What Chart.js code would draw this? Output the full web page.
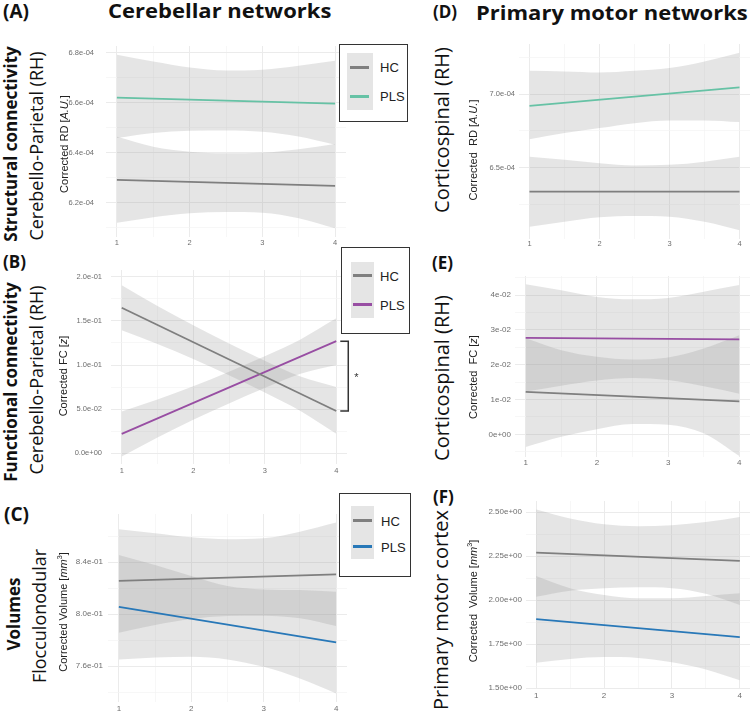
<!DOCTYPE html>
<html>
<head>
<meta charset="utf-8">
<script src="https://cdn.jsdelivr.net/npm/chart.js@4"></script>
<style>
  body { margin: 0; background: #fff; }
  #fig { position: relative; width: 752px; height: 718px; overflow: hidden; font-family: 'Open Sans', sans-serif; }
  canvas { position: absolute; }
  .txt { position: absolute; white-space: nowrap; line-height: 1; color: #111; z-index: 2; }
  .rot { transform: translate(-50%, -50%) rotate(-90deg); }
  .wide { transform: scaleX(1.1); transform-origin: left center; }
  .b { font-weight: 700; }
  .yt { font-family: 'Liberation Sans', Arial, sans-serif; font-size: 11px; color: #222; }
  .yt sup { font-size: 0.65em; line-height: 0; }
  .legend { position: absolute; border: 1.5px solid #333; background: #fff; box-sizing: border-box; z-index: 3; }
  .key { position: absolute; background: #e5e5e5; }
  .seg { position: absolute; height: 3px; width: 19px; }
  .lab { position: absolute; font-family: 'Liberation Sans', Arial, sans-serif; font-size: 13px; line-height: 1; color: #222; }
</style>
</head>
<body>
<div id="fig">
  <!-- headings -->
  <div class="txt b" style="left:3px;top:2px;font-size:19px">(A)</div>
  <div class="txt b wide" style="left:108px;top:1px;font-size:20px">Cerebellar networks</div>
  <div class="txt b" style="left:433px;top:3px;font-size:17px">(D)</div>
  <div class="txt b wide" style="left:476px;top:3px;font-size:20px">Primary motor networks</div>
  <div class="txt b" style="left:3px;top:253px;font-size:17px">(B)</div>
  <div class="txt b" style="left:4px;top:505px;font-size:19px">(C)</div>
  <div class="txt b" style="left:432px;top:254px;font-size:17px">(E)</div>
  <div class="txt b" style="left:433px;top:488px;font-size:17px">(F)</div>

  <!-- row labels -->
  <div class="txt rot b" style="left:10px;top:144px;font-size:17px">Structural connectivity</div>
  <div class="txt rot" style="left:36px;top:146px;font-size:18px">Cerebello-Parietal (RH)</div>
  <div class="txt rot b" style="left:10px;top:382px;font-size:17px">Functional connectivity</div>
  <div class="txt rot" style="left:36px;top:380px;font-size:18px">Cerebello-Parietal (RH)</div>
  <div class="txt rot b" style="left:13px;top:614px;font-size:17px">Volumes</div>
  <div class="txt rot" style="left:39px;top:616px;font-size:18px">Flocculonodular</div>
  <div class="txt rot" style="left:442px;top:130px;font-size:20px">Corticospinal (RH)</div>
  <div class="txt rot" style="left:442px;top:378px;font-size:20px">Corticospinal (RH)</div>
  <div class="txt rot" style="left:441px;top:610px;font-size:20px">Primary motor cortex</div>

  <!-- y axis titles -->
  <div class="txt rot yt" style="left:63.5px;top:144px">Corrected RD [<i>A.U.</i>]</div>
  <div class="txt rot yt" style="left:63px;top:376px">Corrected FC [<i>z</i>]</div>
  <div class="txt rot yt" style="left:63px;top:612px">Corrected Volume [<i>mm</i><sup>3</sup>]</div>
  <div class="txt rot yt" style="left:472.5px;top:150px">Corrected&nbsp; RD [<i>A.U.</i>]</div>
  <div class="txt rot yt" style="left:472.5px;top:377px">Corrected&nbsp; FC [<i>z</i>]</div>
  <div class="txt rot yt" style="left:472.5px;top:601px">Corrected&nbsp; Volume [<i>mm</i><sup>3</sup>]</div>

  <!-- legends -->
  <div class="legend" style="left:339px;top:44px;width:69px;height:78px">
    <div class="key" style="left:7px;top:8px;width:26px;height:57px"></div>
    <div class="seg" style="left:10px;top:21px;background:#7f7f7f"></div>
    <div class="seg" style="left:10px;top:50px;background:#66c2a5"></div>
    <div class="lab" style="left:40px;top:16px">HC</div>
    <div class="lab" style="left:40px;top:45px">PLS</div>
  </div>
  <div class="legend" style="left:341px;top:247px;width:69px;height:87px">
    <div class="key" style="left:9px;top:14px;width:23px;height:56px"></div>
    <div class="seg" style="left:11px;top:26px;background:#7f7f7f"></div>
    <div class="seg" style="left:11px;top:55px;background:#984ea3"></div>
    <div class="lab" style="left:38px;top:22px">HC</div>
    <div class="lab" style="left:38px;top:51px">PLS</div>
  </div>
  <div class="legend" style="left:339px;top:493px;width:72px;height:84px">
    <div class="key" style="left:11px;top:12px;width:23px;height:53px"></div>
    <div class="seg" style="left:13px;top:25px;background:#7f7f7f"></div>
    <div class="seg" style="left:13px;top:51px;background:#2878b8"></div>
    <div class="lab" style="left:41px;top:21px">HC</div>
    <div class="lab" style="left:41px;top:47px">PLS</div>
  </div>
</div>

<script>
// ---- shared x axis ----
var lineX = [1, 4];                       // fitted line end points
var bandX = [1, 1.5, 2, 2.5, 3, 3.5, 4];  // where the CI band edges were read
var xMajor = [1, 2, 3, 4];
var xLabels = ['1', '2', '3', '4'];
var xMinor = [1.5, 2.5, 3.5];

// ---- (A) structural connectivity, cerebello-parietal ----
var hcA = [6.292e-4, 6.268e-4];
var plsA = [6.621e-4, 6.597e-4];
var hcA_hi = [6.465e-4, 6.425e-4, 6.405e-4, 6.399e-4, 6.401e-4, 6.415e-4, 6.436e-4];
var hcA_lo = [6.121e-4, 6.143e-4, 6.159e-4, 6.164e-4, 6.161e-4, 6.139e-4, 6.099e-4];
var plsA_hi = [6.792e-4, 6.765e-4, 6.741e-4, 6.729e-4, 6.732e-4, 6.748e-4, 6.768e-4];
var plsA_lo = [6.459e-4, 6.479e-4, 6.488e-4, 6.489e-4, 6.484e-4, 6.465e-4, 6.432e-4];
var yMajorA = [6.2e-4, 6.4e-4, 6.6e-4, 6.8e-4];
var yLabelsA = ['6.2e-04', '6.4e-04', '6.6e-04', '6.8e-04'];
var yMinorA = [6.1e-4, 6.3e-4, 6.5e-4, 6.7e-4];

// ---- (B) functional connectivity, cerebello-parietal ----
var hcB = [0.1648, 0.048];
var plsB = [0.022, 0.127];
var hcB_hi = [0.1903, 0.1668, 0.1449, 0.1244, 0.1049, 0.0870, 0.0752];
var hcB_lo = [0.1393, 0.1238, 0.1069, 0.0884, 0.0689, 0.0480, 0.0222];
var plsB_hi = [0.0475, 0.0610, 0.0760, 0.0925, 0.1100, 0.1290, 0.1528];
var plsB_lo = [-0.0035, 0.0180, 0.0380, 0.0565, 0.0740, 0.0900, 0.1000];
var yMajorB = [0, 0.05, 0.10, 0.15, 0.20];
var yLabelsB = ['0.0e+00', '5.0e-02', '1.0e-01', '1.5e-01', '2.0e-01'];
var yMinorB = [0.025, 0.075, 0.125, 0.175];

// ---- (C) volumes, flocculonodular ----
var hcC = [0.8256, 0.8307];
var plsC = [0.8057, 0.7782];
var hcC_hi = [0.8655, 0.8624, 0.8593, 0.8578, 0.8585, 0.8636, 0.8706];
var hcC_lo = [0.7856, 0.7916, 0.7962, 0.7985, 0.7988, 0.7968, 0.7908];
var plsC_hi = [0.8456, 0.8379, 0.8294, 0.8217, 0.8191, 0.8186, 0.8173];
var plsC_lo = [0.7651, 0.7666, 0.7671, 0.7651, 0.7594, 0.7504, 0.7389];
var yMajorC = [0.76, 0.80, 0.84];
var yLabelsC = ['7.6e-01', '8.0e-01', '8.4e-01'];
var yMinorC = [0.74, 0.78, 0.82, 0.86];

// ---- (D) structural connectivity, corticospinal ----
var hcD = [6.336e-4, 6.336e-4];
var plsD = [6.920e-4, 7.045e-4];
var hcD_hi = [6.574e-4, 6.552e-4, 6.529e-4, 6.513e-4, 6.518e-4, 6.540e-4, 6.574e-4];
var hcD_lo = [6.097e-4, 6.131e-4, 6.161e-4, 6.170e-4, 6.165e-4, 6.131e-4, 6.074e-4];
var plsD_hi = [7.159e-4, 7.154e-4, 7.147e-4, 7.159e-4, 7.177e-4, 7.222e-4, 7.280e-4];
var plsD_lo = [6.693e-4, 6.734e-4, 6.768e-4, 6.802e-4, 6.820e-4, 6.820e-4, 6.809e-4];
var yMajorD = [6.5e-4, 7.0e-4];
var yLabelsD = ['6.5e-04', '7.0e-04'];
var yMinorD = [6.25e-4, 6.75e-4, 7.25e-4];

// ---- (E) functional connectivity, corticospinal ----
var hcE = [0.0122, 0.0095];
var plsE = [0.0277, 0.0273];
var hcE_hi = [0.0276, 0.0242, 0.0223, 0.0215, 0.0221, 0.0247, 0.0285];
var hcE_lo = [-0.0036, -0.0007, 0.0015, 0.0030, 0.0028, 0.0003, -0.0062];
var plsE_hi = [0.0431, 0.0414, 0.0395, 0.0388, 0.0392, 0.0410, 0.0429];
var plsE_lo = [0.0123, 0.0140, 0.0155, 0.0162, 0.0156, 0.0138, 0.0117];
var yMajorE = [0, 0.01, 0.02, 0.03, 0.04];
var yLabelsE = ['0e+00', '1e-02', '2e-02', '3e-02', '4e-02'];
var yMinorE = [-0.005, 0.005, 0.015, 0.025, 0.035, 0.045];

// ---- (F) volumes, primary motor cortex ----
var hcF = [2.269, 2.222];
var plsF = [1.891, 1.789];
var hcF_hi = [2.514, 2.463, 2.430, 2.419, 2.425, 2.443, 2.472];
var hcF_lo = [2.019, 2.053, 2.067, 2.072, 2.067, 2.035, 1.972];
var plsF_hi = [2.136, 2.067, 2.029, 2.010, 2.010, 2.023, 2.038];
var plsF_lo = [1.643, 1.665, 1.676, 1.671, 1.646, 1.605, 1.544];
var yMajorF = [1.50, 1.75, 2.00, 2.25, 2.50];
var yLabelsF = ['1.50e+00', '1.75e+00', '2.00e+00', '2.25e+00', '2.50e+00'];
var yMinorF = [1.625, 1.875, 2.125, 2.375];

var hcColor = '#7f7f7f';
var bandFill = 'rgba(153,153,153,0.25)';

Chart.defaults.font.family = "'Liberation Sans', Arial, sans-serif";
Chart.defaults.animation = false;

function pts(xs, ys) {
	return xs.map(function (x, i) { return { x: x, y: ys[i] }; });
}

function tickList(major, labels, minor) {
	var t = major.map(function (v, i) { return { value: v, lbl: labels[i], maj: true }; });
	minor.forEach(function (v) { t.push({ value: v, lbl: '', maj: false }); });
	t.sort(function (a, b) { return a.value - b.value; });
	return t;
}

// star bracket between the two line ends in (B)
var bracketPlugin = {
	id: 'bracket',
	afterDraw: function (chart) {
		var opts = chart.options.plugins.bracket;
		if (!opts || !opts.on) return;
		var ctx = chart.ctx, x = chart.scales.x, y = chart.scales.y;
		var xe = x.getPixelForValue(4);
		var y0 = y.getPixelForValue(plsB[1]), y1 = y.getPixelForValue(hcB[1]);
		ctx.save();
		ctx.strokeStyle = '#333';
		ctx.lineWidth = 1.5;
		ctx.beginPath();
		ctx.moveTo(xe + 4, y0); ctx.lineTo(xe + 12, y0);
		ctx.lineTo(xe + 12, y1); ctx.lineTo(xe + 4, y1);
		ctx.stroke();
		ctx.fillStyle = '#333';
		ctx.font = "11px 'Liberation Sans', Arial, sans-serif";
		ctx.textAlign = 'center';
		ctx.textBaseline = 'middle';
		ctx.fillText('*', xe + 20, (y0 + y1) / 2 + 2);
		ctx.restore();
	}
};

function makePanel(p) {
	var yW = 50, xH = 16;
	var extra = p.extraRight || 0;
	var cw = p.area[1] - p.area[0], ch = p.area[3] - p.area[2];
	var canvas = document.createElement('canvas');
	canvas.width = yW + cw + extra;
	canvas.height = ch + xH;
	canvas.style.left = (p.area[0] - yW) + 'px';
	canvas.style.top = p.area[2] + 'px';
	canvas.style.width = canvas.width + 'px';
	canvas.style.height = canvas.height + 'px';
	document.getElementById('fig').appendChild(canvas);

	var xt = tickList(xMajor, xLabels, xMinor);
	var yt = tickList(p.yMajor, p.yLabels, p.yMinor);
	var gridColor = function (c) { return c.tick && c.tick.maj ? '#ebebeb' : '#f3f3f3'; };
	var gridWidth = function (c) { return c.tick && c.tick.maj ? 1 : 0.7; };
	var band = function (data) {
		return { data: data, borderColor: 'transparent', borderWidth: 0, pointRadius: 0,
			cubicInterpolationMode: 'monotone', backgroundColor: bandFill };
	};

	return new Chart(canvas, {
		type: 'line',
		data: {
			datasets: [
				{ label: 'HC', data: pts(lineX, p.hc), borderColor: hcColor, borderWidth: 1.8, pointRadius: 0, fill: false },
				{ label: 'PLS', data: pts(lineX, p.pls), borderColor: p.plsColor, borderWidth: 1.8, pointRadius: 0, fill: false },
				Object.assign(band(pts(bandX, p.hcHi)), { fill: '+1' }),
				Object.assign(band(pts(bandX, p.hcLo)), { fill: false }),
				Object.assign(band(pts(bandX, p.plsHi)), { fill: '+1' }),
				Object.assign(band(pts(bandX, p.plsLo)), { fill: false })
			]
		},
		options: {
			responsive: false,
			layout: { padding: { left: 0, right: extra, top: 0, bottom: 0 } },
			plugins: { legend: { display: false }, tooltip: { enabled: false }, bracket: { on: !!p.bracket } },
			scales: {
				x: {
					type: 'linear', min: 0.85, max: 4.15, bounds: 'data',
					afterBuildTicks: function (s) { s.ticks = xt.map(function (t) { return Object.assign({}, t); }); },
					afterFit: function (s) { s.height = xH; s.paddingLeft = 0; s.paddingRight = 0; },
					ticks: { autoSkip: false, maxRotation: 0, padding: p.xPad, color: '#6e6e6e', font: { size: p.tickSize },
						callback: function (v, i, t) { return t[i].lbl; } },
					grid: { drawTicks: false, color: gridColor, lineWidth: gridWidth },
					border: { display: false }
				},
				y: {
					type: 'linear', min: p.yRange[0], max: p.yRange[1], bounds: 'data',
					afterBuildTicks: function (s) { s.ticks = yt.map(function (t) { return Object.assign({}, t); }); },
					afterFit: function (s) { s.width = yW; s.paddingTop = 0; s.paddingBottom = 0; },
					ticks: { autoSkip: false, padding: p.yPad, color: '#6e6e6e', font: { size: p.tickSize },
						callback: function (v, i, t) { return t[i].lbl; } },
					grid: { drawTicks: false, color: gridColor, lineWidth: gridWidth },
					border: { display: false }
				}
			}
		},
		plugins: [bracketPlugin]
	});
}

makePanel({ area: [106, 346, 46, 237], yRange: [6.064e-4, 6.827e-4], yPad: 12, xPad: 1, tickSize: 7.5,
	hc: hcA, pls: plsA, hcHi: hcA_hi, hcLo: hcA_lo, plsHi: plsA_hi, plsLo: plsA_lo, plsColor: '#66c2a5',
	yMajor: yMajorA, yLabels: yLabelsA, yMinor: yMinorA });

makePanel({ area: [111, 347, 270, 464], yRange: [-0.012, 0.2075], yPad: 9, xPad: 2, tickSize: 7.5, extraRight: 24, bracket: true,
	hc: hcB, pls: plsB, hcHi: hcB_hi, hcLo: hcB_lo, plsHi: plsB_hi, plsLo: plsB_lo, plsColor: '#984ea3',
	yMajor: yMajorB, yLabels: yLabelsB, yMinor: yMinorB });

makePanel({ area: [108, 347, 514, 702], yRange: [0.7323, 0.8772], yPad: 5, xPad: 2, tickSize: 8,
	hc: hcC, pls: plsC, hcHi: hcC_hi, hcLo: hcC_lo, plsHi: plsC_hi, plsLo: plsC_lo, plsColor: '#2878b8',
	yMajor: yMajorC, yLabels: yLabelsC, yMinor: yMinorC });

makePanel({ area: [519, 750, 44, 239], yRange: [6.0137e-4, 7.3403e-4], yPad: 4, xPad: 0, tickSize: 7.5,
	hc: hcD, pls: plsD, hcHi: hcD_hi, hcLo: hcD_lo, plsHi: plsD_hi, plsLo: plsD_lo, plsColor: '#66c2a5',
	yMajor: yMajorD, yLabels: yLabelsD, yMinor: yMinorD });

makePanel({ area: [515, 750, 276, 457], yRange: [-0.0065, 0.0455], yPad: 4, xPad: 1, tickSize: 8,
	hc: hcE, pls: plsE, hcHi: hcE_hi, hcLo: hcE_lo, plsHi: plsE_hi, plsLo: plsE_lo, plsColor: '#984ea3',
	yMajor: yMajorE, yLabels: yLabelsE, yMinor: yMinorE });

makePanel({ area: [526, 750, 501, 689], yRange: [1.4944, 2.5626], yPad: 4, xPad: 2, tickSize: 8,
	hc: hcF, pls: plsF, hcHi: hcF_hi, hcLo: hcF_lo, plsHi: plsF_hi, plsLo: plsF_lo, plsColor: '#2878b8',
	yMajor: yMajorF, yLabels: yLabelsF, yMinor: yMinorF });
</script>
</body>
</html>
